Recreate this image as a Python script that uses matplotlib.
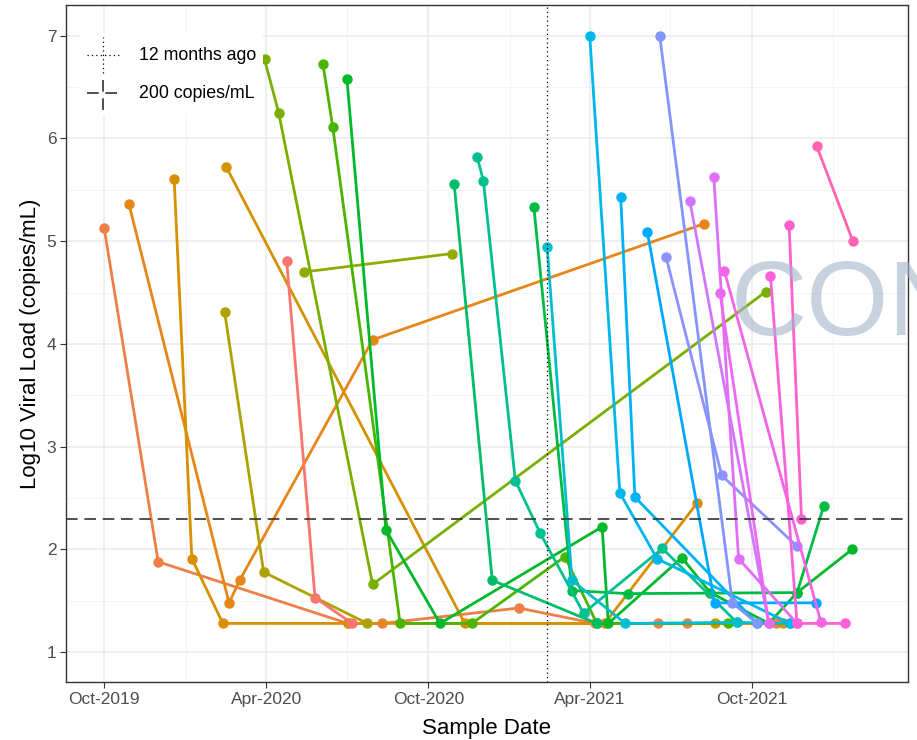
import numpy as np
import pandas as pd
import matplotlib
matplotlib.use("Agg")
import matplotlib.pyplot as plt
import matplotlib.dates as mdates
from matplotlib.lines import Line2D
from matplotlib.legend_handler import HandlerBase

plt.rcParams['font.family'] = ['Liberation Sans', 'DejaVu Sans']

# one list per patient: sample dates and log10 viral load
sample_dates = [
    ["2019-10-01", "2019-12-01", "2020-07-02", "2020-08-10", "2021-01-11", "2021-04-07", "2021-06-17", "2021-07-20", "2021-10-28"],
    ["2019-10-29", "2020-02-19", "2020-03-02", "2020-07-30", "2021-08-08"],
    ["2019-12-19", "2020-01-08", "2020-02-12", "2020-07-02", "2021-04-18", "2021-07-31"],
    ["2020-02-16", "2020-11-11", "2021-08-20", "2021-11-05"],
    ["2020-02-14", "2020-03-29", "2020-07-24"],
    ["2020-04-24", "2020-05-26", "2020-07-07"],
    ["2020-05-13", "2020-10-28"],
    ["2020-03-30", "2020-04-15", "2020-07-30", "2021-10-17"],
    ["2020-06-04", "2020-06-15", "2020-08-30", "2020-11-19", "2021-03-04", "2021-04-09", "2021-09-04"],
    ["2020-07-01", "2020-08-14", "2020-10-14", "2021-04-15", "2021-04-22", "2021-07-14", "2021-08-15", "2021-10-20", "2021-11-21", "2022-01-22"],
    ["2021-01-28", "2021-03-12", "2021-05-14", "2021-11-21", "2021-12-21"],
    ["2020-10-30", "2020-12-12", "2021-04-09"],
    ["2020-11-25", "2020-12-02", "2021-01-07", "2021-02-04", "2021-03-25", "2021-06-22", "2021-09-14"],
    ["2021-02-12", "2021-03-12", "2021-05-11", "2021-09-14", "2021-11-13"],
    ["2021-04-01", "2021-05-05", "2021-06-16", "2021-11-13"],
    ["2021-05-06", "2021-05-22", "2021-10-07"],
    ["2021-06-05", "2021-08-20", "2021-12-12"],
    ["2021-06-19", "2021-09-09", "2021-10-07"],
    ["2021-06-26", "2021-08-28", "2021-11-21"],
    ["2021-07-23", "2021-10-20"],
    ["2021-08-19", "2021-09-16", "2021-11-21"],
    ["2021-08-26", "2021-10-20"],
    ["2021-08-31", "2021-12-18"],
    ["2021-10-22", "2021-11-21", "2022-01-14"],
    ["2021-11-12", "2021-11-26"],
    ["2021-12-13", "2022-01-23"],
]
viral_loads = [
    [5.13, 1.88, 1.28, 1.28, 1.43, 1.28, 1.28, 1.28, 1.28],
    [5.36, 1.48, 1.70, 4.04, 5.17],
    [5.61, 1.91, 1.28, 1.28, 1.28, 2.45],
    [5.72, 1.28, 1.28, 1.28],
    [4.31, 1.78, 1.28],
    [4.81, 1.53, 1.28],
    [4.70, 4.88],
    [6.77, 6.25, 1.66, 4.51],
    [6.72, 6.11, 1.28, 1.28, 1.93, 1.28, 1.28],
    [6.58, 2.19, 1.28, 2.22, 1.28, 1.92, 1.58, 1.28, 1.58, 2.00],
    [5.33, 1.60, 1.57, 1.58, 2.42],
    [5.56, 1.70, 1.28],
    [5.82, 5.59, 2.67, 2.16, 1.38, 2.01, 1.29],
    [4.94, 1.70, 1.28, 1.29, 1.28],
    [7.00, 2.55, 1.91, 1.28],
    [5.43, 2.51, 1.28],
    [5.09, 1.48, 1.48],
    [7.00, 1.48, 1.28],
    [4.85, 2.72, 2.03],
    [5.39, 1.28],
    [5.62, 1.91, 1.28],
    [4.50, 1.28],
    [4.71, 1.29],
    [4.66, 1.28, 1.28],
    [5.16, 2.30],
    [5.93, 5.00],
]
hues = [27, 37, 50, 55, 80, 15, 95, 106, 120, 132, 138, 150, 168, 200, 220, 230,
        242, 262, 265, 290, 298, 305, 312, 322, 330, 345]

months_ago_12 = "2021-02-12"
threshold = np.log10(200)


def hcl_color(h, c=100, l=65):
    # ggplot-style hue colour (polar Luv -> sRGB)
    hr = np.deg2rad(h)
    u, v = c * np.cos(hr), c * np.sin(hr)
    xn, yn, zn = 95.047, 100.0, 108.883
    un = 4 * xn / (xn + 15 * yn + 3 * zn)
    vn = 9 * yn / (xn + 15 * yn + 3 * zn)
    y = yn * ((l + 16) / 116) ** 3
    up = u / (13 * l) + un
    vp = v / (13 * l) + vn
    x = y * 9 * up / (4 * vp)
    z = y * (12 - 3 * up - 20 * vp) / (4 * vp)
    x, y, z = x / 100, y / 100, z / 100
    rgb = [3.2406 * x - 1.5372 * y - 0.4986 * z,
           -0.9689 * x + 1.8758 * y + 0.0415 * z,
           0.0557 * x - 0.2040 * y + 1.0570 * z]
    out = []
    for t in rgb:
        t = min(max(t, 0), 1)
        out.append(12.92 * t if t <= 0.0031308 else 1.055 * t ** (1 / 2.4) - 0.055)
    return tuple(out)


class CrossHandler(HandlerBase):
    def __init__(self, ls):
        super().__init__()
        self.ls = ls

    def create_artists(self, legend, orig, xd, yd, width, height, fontsize, trans):
        kw = dict(color=orig.get_color(), linestyle=self.ls, linewidth=orig.get_linewidth())
        h = Line2D([-xd, -xd + width], [height / 2 - yd] * 2, transform=trans, **kw)
        v = Line2D([width / 2 - xd] * 2, [-yd - 0.1 * height, -yd + 1.1 * height], transform=trans, **kw)
        return [h, v]


fig = plt.figure(figsize=(9.17, 7.40), dpi=100)
ax = fig.add_axes([0.072, 0.0784, 0.918, 0.915])

for d, vl, h in zip(sample_dates, viral_loads, hues):
    ax.plot(pd.to_datetime(d), vl, '-o', color=hcl_color(h), lw=2.0, ms=6.5, zorder=3)

dot_ls = (0, (1, 2.5))
dash_ls = (0, (7, 4))
ax.axvline(pd.Timestamp(months_ago_12), color='black', ls=dot_ls, lw=0.9, zorder=4)
ax.axhline(threshold, color='#333333', ls=dash_ls, lw=1.2, zorder=4)

ax.set_xlim(pd.Timestamp("2019-08-19"), pd.Timestamp("2022-03-26"))
ax.set_ylim(0.71, 7.30)
ax.xaxis.set_major_locator(mdates.MonthLocator(bymonth=[4, 10]))
ax.xaxis.set_minor_locator(mdates.MonthLocator(bymonth=[1, 7]))
ax.xaxis.set_major_formatter(mdates.DateFormatter("%b-%Y"))
ax.set_yticks([1, 2, 3, 4, 5, 6, 7])
ax.set_yticks(np.arange(1.5, 7.5, 1), minor=True)

ax.grid(which='major', color='#EBEBEB', lw=1.1, zorder=0)
ax.grid(which='minor', color='#F2F2F2', lw=0.6, zorder=0)
ax.set_axisbelow(True)
for s in ax.spines.values():
    s.set_color('#333333')
    s.set_linewidth(1.0)
ax.tick_params(which='major', length=4, color='#333333', labelcolor='#4D4D4D', labelsize=12.5, pad=3)
ax.tick_params(which='minor', length=0)

ax.set_xlabel("Sample Date", fontsize=16, color='black', labelpad=8)
ax.set_ylabel("Log10 Viral Load (copies/mL)", fontsize=16, color='black', labelpad=4)

h1 = Line2D([], [], color='black', lw=0.9)
h2 = Line2D([], [], color='#333333', lw=1.2)
leg = ax.legend([h1, h2], ["12 months ago", "200 copies/mL"],
                handler_map={h1: CrossHandler(dot_ls), h2: CrossHandler(dash_ls)},
                loc='upper left', bbox_to_anchor=(0.006, 0.972), fontsize=12.8,
                handlelength=1.8, handleheight=2.2, handletextpad=1.1, labelspacing=0.45,
                borderpad=0.4, frameon=True, fancybox=False, framealpha=1,
                facecolor='white', edgecolor='none')
leg.set_zorder(5)

fig.text(0.797, 0.547, "CONFIDENTIAL", fontsize=76, color='#A3B5C9', alpha=0.6,
         ha='left', va='baseline', zorder=10)

fig.savefig("out.png", dpi=100)
